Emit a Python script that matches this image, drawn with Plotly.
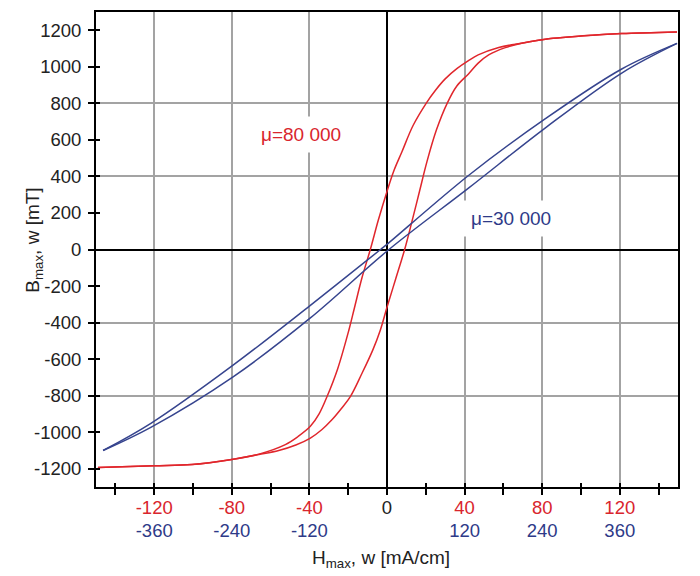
import plotly.graph_objects as go

# ---- data ----
# mu = 80 000 loop, H in red scale [mA/cm], B in mT
red_desc_H = [149.5, 121, 105.7, 81.6, 70, 57.6, 47, 42, 36, 30, 25, 20.6, 13.5, 7.7, 3.5, 0, -4.5, -8.6, -12.9, -16.8, -19.7, -25.5, -30.9, -35, -39.5, -46, -52.4, -66, -80, -100.5, -120, -149]
red_desc_B = [1191, 1182, 1173, 1151, 1130, 1106, 1065, 1034, 990, 934, 872, 807, 680, 535, 430, 318, 160, 0, -155, -320, -443, -655, -805, -900, -968, -1025, -1068, -1120, -1149, -1177, -1184, -1193]
red_asc_H = [-149, -120, -100.5, -80, -66, -55.8, -47, -39.5, -33.5, -28.4, -23.5, -18.9, -13, -7.4, -3.5, 0, 4.5, 9.1, 12.9, 16.8, 20.6, 25.5, 31, 36, 42, 47, 52.4, 61, 70, 81.6, 100, 121, 149.5]
red_asc_B = [-1193, -1184, -1177, -1149, -1122, -1100, -1070, -1032, -985, -932, -870, -805, -680, -552, -443, -316, -160, 0, 155, 320, 481, 655, 800, 895, 961, 1020, 1065, 1105, 1130, 1151, 1168, 1182, 1191]

# mu = 30 000 loop, H in blue scale [mA/cm], B in mT
blue_desc_H = [448.5, 363, 245, 126, 0, -10, -119, -238, -364.5, -439]
blue_desc_B = [1128, 988, 716, 405, 28, 0, -307, -633, -950, -1100]
blue_asc_H = [-439, -364.5, -238, -119, 3, 126, 245, 363, 448.5]
blue_asc_B = [-1100, -972, -697, -376, 0, 336, 666, 966, 1128]

red_ticks = [-120, -80, -40, 0, 40, 80, 120]
blue_ticks = [-360, -240, -120, 120, 240, 360]
y_ticks = list(range(-1200, 1201, 200))
y_grid = [-800, -400, 400, 800]

RED = "#e0262c"
BLUE = "#36448e"
RED_TXT = "#d9252d"
BLUE_TXT = "#2e3a88"
FONT = "Liberation Sans, Arial, sans-serif"
FS = 18.5

fig = go.Figure()
for hx, by in [(red_desc_H, red_desc_B), (red_asc_H, red_asc_B)]:
    fig.add_trace(go.Scatter(x=hx, y=by, mode="lines", line=dict(color=RED, width=1.5, shape="spline"),
                             xaxis="x", yaxis="y", showlegend=False, hoverinfo="skip"))
for hx, by in [(blue_desc_H, blue_desc_B), (blue_asc_H, blue_asc_B)]:
    fig.add_trace(go.Scatter(x=hx, y=by, mode="lines", line=dict(color=BLUE, width=1.5, shape="spline"),
                             xaxis="x2", yaxis="y2", showlegend=False, hoverinfo="skip"))

red_text = [("0" if v == 0 else f"<span style='color:{RED_TXT}'>{v}</span>") for v in red_ticks]
minor_red = [v for v in range(-140, 141, 20) if v % 40 != 0]
blue_inside = list(range(-420, 421, 60))
blue_text = [(str(v) if v in blue_ticks else " ") for v in blue_inside]
y_text = [str(v) for v in y_ticks]

fig.update_layout(
    width=700, height=576,
    margin=dict(l=96, r=22, t=10, b=89),
    paper_bgcolor="white", plot_bgcolor="white",
    font=dict(family=FONT, size=FS, color="#222"),
    xaxis=dict(range=[-150, 150], tickmode="array", tickvals=red_ticks, ticktext=red_text,
               ticks="outside", ticklen=6, tickwidth=1.5, tickcolor="black",
               minor=dict(tickmode="array", tickvals=minor_red, ticks="outside", ticklen=6,
                          tickwidth=1.5, tickcolor="black", showgrid=False),
               showgrid=True, gridcolor="#a3a3a3", gridwidth=1.5,
               zeroline=True, zerolinecolor="black", zerolinewidth=2,
               showline=True, linecolor="black", linewidth=2, mirror=True,
               ticklabelstandoff=-3, tickfont=dict(size=FS, color="#222")),
    xaxis2=dict(range=[-450, 450], overlaying="x", anchor="y2", side="bottom",
                tickmode="array", tickvals=blue_inside, ticktext=blue_text,
                ticks="inside", ticklen=4, tickwidth=1.5, tickcolor="black",
                showgrid=False, zeroline=False, showline=False,
                ticklabelstandoff=30, tickfont=dict(size=FS, color=BLUE_TXT)),
    yaxis=dict(range=[-1300, 1300], tickmode="array", tickvals=y_ticks, ticktext=y_text,
               ticks="outside", ticklen=6, tickwidth=1.5, tickcolor="black",
               showgrid=False, zeroline=True, zerolinecolor="black", zerolinewidth=2,
               showline=True, linecolor="black", linewidth=2, mirror=True,
               ticklabelstandoff=3, tickfont=dict(size=FS, color="#222")),
    yaxis2=dict(range=[-1300, 1300], overlaying="y", side="left",
                tickmode="array", tickvals=y_grid, ticks="inside", ticklen=4, tickwidth=1.5,
                tickcolor="black", showticklabels=False,
                minor=dict(tickmode="array", tickvals=y_ticks, ticks="inside", ticklen=4,
                           tickwidth=1.5, tickcolor="black", showgrid=False),
                showgrid=True, gridcolor="#a3a3a3", gridwidth=1.5,
                zeroline=False, showline=False),
)

fig.add_annotation(xref="paper", yref="paper", x=0.49, y=-0.151, xanchor="center", yanchor="middle",
                   text="H<sub>max</sub>, w [mA/cm]", showarrow=False, font=dict(size=19, color="#222"))
fig.add_annotation(xref="paper", yref="paper", x=-0.107, y=0.52, xanchor="center", yanchor="middle",
                   text="B<sub>max</sub>, w [mT]", textangle=-90, showarrow=False,
                   font=dict(size=19, color="#222"))
fig.add_annotation(xref="x", yref="y", x=-44.5, y=628, text="μ=80 000", showarrow=False,
                   font=dict(size=19, color=RED_TXT), bgcolor="white", borderpad=7)
fig.add_annotation(xref="x", yref="y", x=64, y=171, text="μ=30 000", showarrow=False,
                   font=dict(size=19, color=BLUE_TXT), bgcolor="white", borderpad=7)

fig.write_html("out.html")
